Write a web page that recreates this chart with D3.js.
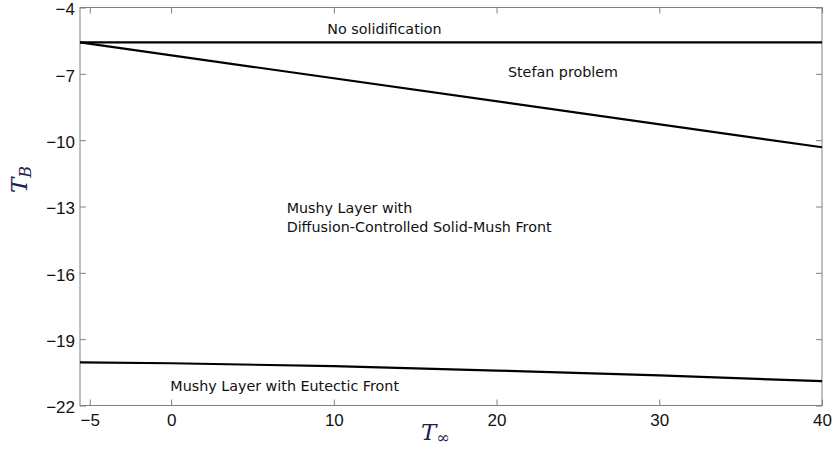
<!DOCTYPE html>
<html>
<head>
<meta charset="utf-8">
<script src="https://cdn.jsdelivr.net/npm/d3@7"></script>
<style>
  html, body { margin: 0; padding: 0; background: #fff; }
  svg { display: block; }
</style>
</head>
<body>
<svg id="chart" width="833" height="450"></svg>
<script>
// Regime boundaries in the (T_inf, T_B) plane
const xTicks = [-5, 0, 10, 20, 30, 40];
const yTicks = [-22, -19, -16, -13, -10, -7, -4];

// No solidification / Stefan boundary (horizontal)
const noSolidX = [-5.6, 40];
const noSolidY = [-5.58, -5.58];

// Stefan problem / mushy layer boundary
const stefanX = [-5.6, 40];
const stefanY = [-5.58, -10.32];

// Diffusion-controlled front / eutectic front boundary
const eutecticX = [-5.6, 0, 10, 20, 30, 40];
const eutecticY = [-20.05, -20.09, -20.22, -20.42, -20.64, -20.9];

const regionLabels = [
  { lines: ["No solidification"], x: 9.6, y: -5.2 },
  { lines: ["Stefan problem"], x: 20.7, y: -7.15 },
  { lines: ["Mushy Layer with", "Diffusion-Controlled Solid-Mush Front"], x: 7.1, y: -13.3 },
  { lines: ["Mushy Layer with Eutectic Front"], x: -0.05, y: -21.35 }
];

const svg = d3.select("#chart");
const m = { left: 80, right: 11, top: 7.5, bottom: 44.5 };
const W = 833, H = 450;

const x = d3.scaleLinear().domain([-5.6, 40]).range([m.left, W - m.right]);
const y = d3.scaleLinear().domain([-22, -4]).range([H - m.bottom, m.top]);

const axisColor = "#808080";
const tickFont = "'Liberation Sans', Arial, sans-serif";

function styleAxis(g, showText) {
  g.select(".domain").remove();
  g.selectAll(".tick line").attr("stroke", axisColor).attr("stroke-width", 1);
  g.selectAll(".tick text")
    .attr("fill", "#111")
    .style("font-family", tickFont)
    .style("font-size", "17px")
    .style("display", showText ? null : "none");
}

const fmt = d => (d < 0 ? "\u2212" + Math.abs(d) : String(d));

// bottom axis (ticks inward)
svg.append("g")
  .attr("transform", `translate(0,${y(-22)})`)
  .call(d3.axisBottom(x).tickValues(xTicks).tickFormat(fmt).tickSizeInner(-6).tickSizeOuter(0).tickPadding(8))
  .call(g => styleAxis(g, true));

// top axis (ticks only)
svg.append("g")
  .attr("transform", `translate(0,${y(-4)})`)
  .call(d3.axisTop(x).tickValues(xTicks).tickSizeInner(-6).tickSizeOuter(0))
  .call(g => styleAxis(g, false));

// left axis
svg.append("g")
  .attr("transform", `translate(${x(-5.6)},0)`)
  .call(d3.axisLeft(y).tickValues(yTicks).tickFormat(fmt).tickSizeInner(-6).tickSizeOuter(0).tickPadding(5))
  .call(g => styleAxis(g, true))
  .call(g => g.selectAll(".tick text").attr("y", 1.8));

// right axis (ticks only)
svg.append("g")
  .attr("transform", `translate(${x(40)},0)`)
  .call(d3.axisRight(y).tickValues(yTicks).tickSizeInner(-6).tickSizeOuter(0))
  .call(g => styleAxis(g, false));

// frame
svg.append("rect")
  .attr("x", x(-5.6)).attr("y", y(-4))
  .attr("width", x(40) - x(-5.6)).attr("height", y(-22) - y(-4))
  .attr("fill", "none").attr("stroke", axisColor).attr("stroke-width", 1);

// boundary curves
const line = d3.line().x(d => x(d[0])).y(d => y(d[1]));
const curves = [
  d3.zip(noSolidX, noSolidY),
  d3.zip(stefanX, stefanY),
  d3.zip(eutecticX, eutecticY)
];
svg.append("g").selectAll("path")
  .data(curves)
  .join("path")
  .attr("d", line)
  .attr("fill", "none")
  .attr("stroke", "#000")
  .attr("stroke-width", 2.2);

// region annotations
const ann = svg.append("g")
  .style("font-family", "'DejaVu Sans', sans-serif")
  .style("font-size", "14.3px")
  .attr("fill", "#111");
regionLabels.forEach(r => {
  const t = ann.append("text").attr("x", x(r.x)).attr("y", y(r.y));
  r.lines.forEach((s, i) => {
    t.append("tspan").attr("x", x(r.x)).attr("dy", i === 0 ? 0 : 19).text(s);
  });
});

// axis titles
const titleColor = "#1c2250";
const xt = svg.append("text")
  .attr("x", 421).attr("y", 440)
  .attr("fill", titleColor)
  .style("font-family", "'DejaVu Serif', 'Liberation Serif', serif")
  .style("font-size", "23px");
xt.append("tspan").style("font-style", "italic").text("T");
xt.append("tspan").attr("dy", 3).style("font-size", "16px").text("\u221E");

const yt = svg.append("text")
  .attr("transform", "translate(27,193) rotate(-90)")
  .attr("fill", titleColor)
  .style("font-family", "'DejaVu Serif', 'Liberation Serif', serif")
  .style("font-size", "23px");
yt.append("tspan").style("font-style", "italic").text("T");
yt.append("tspan").attr("dy", 4).style("font-size", "16px").style("font-style", "italic").text("B");
</script>
</body>
</html>
